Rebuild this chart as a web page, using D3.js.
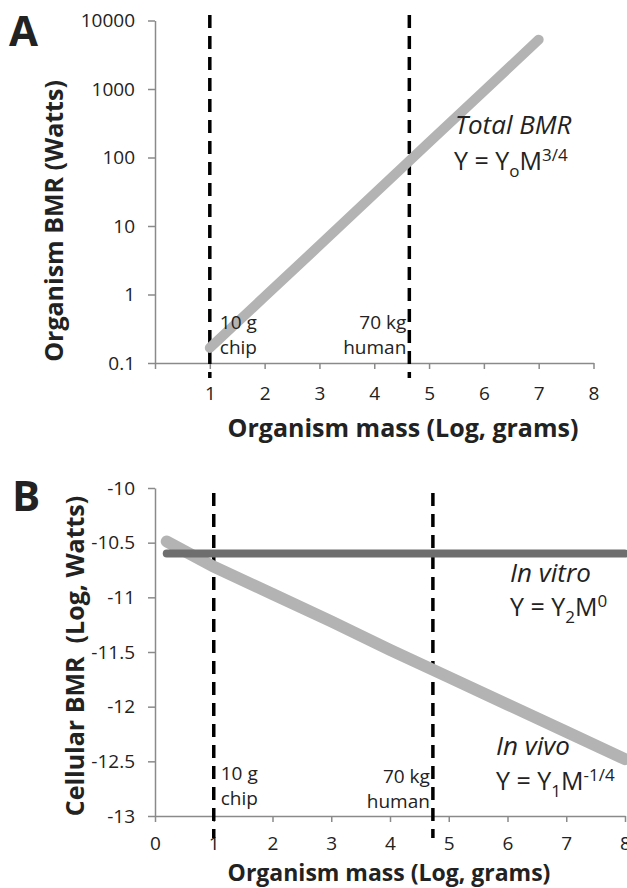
<!DOCTYPE html>
<html>
<head>
<meta charset="utf-8">
<script src="https://cdn.jsdelivr.net/npm/d3@7"></script>
<style>
  body { margin: 0; background: #fff; }
  svg text { font-family: "Open Sans", sans-serif; }
</style>
</head>
<body>
<svg id="chart" width="627" height="888"></svg>
<script>
// ---- data ----
const massTicks = [0, 1, 2, 3, 4, 5, 6, 7, 8];
const bmrTicksA = [0.1, 1, 10, 100, 1000, 10000];
const cellTicksB = [-13, -12.5, -12, -11.5, -11, -10.5, -10];

// panel A: total BMR vs organism mass
const totalMass = [1, 2, 3, 4, 5, 6, 7];
const totalBmr = [0.166, 0.93, 5.2, 29.5, 166, 930, 5250];

// panel B: cellular BMR
const vitroMass = [0.2, 8];
const vitroBmr = [-10.6, -10.6];
const vivoMass = [0.2, 1, 2, 3, 4, 5, 6, 7, 8];
const vivoBmr = [-10.49, -10.72, -10.97, -11.22, -11.48, -11.73, -11.98, -12.23, -12.48];

// reference organisms (log grams)
const markerMassA = [1, 4.64];
const markerMassB = [1, 4.73];

const svg = d3.select('#chart');
const LIGHT = '#b3b3b3', DARK = '#6e6e6e', AXIS = '#8a8a8a', TXT = '#222';

function drawAxes(g, x, y, yTicks, showZero, xPad) {
  var xa = g.append('g')
    .attr('transform', `translate(0,${y.range()[0]})`)
    .call(d3.axisBottom(x).tickValues(massTicks).tickSize(6).tickSizeOuter(0).tickPadding(xPad)
      .tickFormat(d => (d === 0 && !showZero) ? '' : d));
  var ya = g.append('g')
    .attr('transform', `translate(${x.range()[0]},0)`)
    .call(d3.axisLeft(y).tickValues(yTicks).tickSize(7).tickSizeOuter(0).tickPadding(13).tickFormat(d => d));
  [xa, ya].forEach(a => {
    a.selectAll('path, line').attr('stroke', AXIS).attr('stroke-width', 1.5);
    a.selectAll('text').attr('fill', TXT).style('font-size', '19px');
  });
}

function drawMarkers(g, x, masses, y0, y1) {
  g.selectAll('line.marker').data(masses).enter().append('line')
    .attr('class', 'marker')
    .attr('x1', d => x(d)).attr('x2', d => x(d))
    .attr('y1', y0).attr('y2', y1)
    .attr('stroke', '#000').attr('stroke-width', 3.5)
    .attr('stroke-dasharray', '13,8');
}

function note(g, x, y, lines, anchor) {
  var t = g.append('text').attr('fill', TXT).style('font-size', '19px').attr('text-anchor', anchor || 'start');
  lines.forEach((s, i) => {
    t.append('tspan').attr('x', x).attr('y', y + i * 25).text(s);
  });
}

function label(g, x, y, s) {
  g.append('text').attr('x', x).attr('y', y).attr('fill', TXT)
    .style('font-size', '26px').style('font-style', 'italic').text(s);
}

function formula(g, x, y, sub, sup) {
  var t = g.append('text').attr('x', x).attr('y', y).attr('fill', TXT).style('font-size', '25px');
  t.append('tspan').text('Y = Y');
  t.append('tspan').attr('dy', 7).style('font-size', '17px').text(sub);
  t.append('tspan').attr('dy', -7).text('M');
  t.append('tspan').attr('dy', -9).style('font-size', '17px').text(sup);
}

function title(g, x, y, s, size, rotate) {
  var t = g.append('text').attr('text-anchor', 'middle').attr('fill', TXT)
    .style('font-size', size + 'px').style('font-weight', 700).style('white-space', 'pre').text(s);
  if (rotate) t.attr('transform', `translate(${x},${y}) rotate(-90)`);
  else t.attr('x', x).attr('y', y);
}

// ---- panel A ----
var gA = svg.append('g');
var xA = d3.scaleLinear().domain([0, 8]).range([155, 593.5]);
var yA = d3.scaleLog().domain([0.1, 10000]).range([363, 20.5]);

drawAxes(gA, xA, yA, bmrTicksA, false, 18);
drawMarkers(gA, xA, markerMassA, 15, 378);

gA.append('path')
  .datum(totalMass.map((m, i) => [m, totalBmr[i]]))
  .attr('fill', 'none').attr('stroke', LIGHT).attr('stroke-width', 10).attr('stroke-linecap', 'round')
  .attr('d', d3.line().x(d => xA(d[0])).y(d => yA(d[1])));

note(gA, xA(1) + 10, 329, ['10 g', 'chip']);
note(gA, xA(markerMassA[1]) - 3, 329, ['70 kg', 'human'], 'end');

label(gA, 455, 134, 'Total BMR');
formula(gA, 454, 170, 'o', '3/4');

gA.append('text').attr('x', 9).attr('y', 46).attr('fill', TXT)
  .style('font-size', '42px').style('font-weight', 700).text('A');
title(gA, 63, 221, 'Organism BMR (Watts)', 25, true);
title(gA, 403, 437, 'Organism mass (Log, grams)', 25, false);

// ---- panel B ----
var gB = svg.append('g');
var xB = d3.scaleLinear().domain([0, 8]).range([155, 625]);
var yB = d3.scaleLinear().domain([-13, -10]).range([816, 488]);

drawAxes(gB, xB, yB, cellTicksB, true, 15);
drawMarkers(gB, xB, markerMassB, 493, 838);

var lineB = d3.line().x(d => xB(d[0])).y(d => yB(d[1]));
gB.append('path')
  .datum(vivoMass.map((m, i) => [m, vivoBmr[i]]))
  .attr('fill', 'none').attr('stroke', LIGHT).attr('stroke-width', 12).attr('stroke-linecap', 'round')
  .attr('d', lineB);
gB.append('path')
  .datum(vitroMass.map((m, i) => [m, vitroBmr[i]]))
  .attr('fill', 'none').attr('stroke', DARK).attr('stroke-width', 8).attr('stroke-linecap', 'round')
  .attr('d', lineB);

note(gB, xB(1) + 7, 780, ['10 g', 'chip']);
note(gB, xB(markerMassB[1]) - 3, 783, ['70 kg', 'human'], 'end');

label(gB, 510, 582, 'In vitro');
formula(gB, 510, 616, '2', '0');
label(gB, 496, 755, 'In vivo');
formula(gB, 496, 790, '1', '-1/4');

gB.append('text').attr('x', 12).attr('y', 511).attr('fill', TXT)
  .style('font-size', '42px').style('font-weight', 700).text('B');
title(gB, 84, 656, 'Cellular BMR  (Log, Watts)', 25, true);
title(gB, 389, 881, 'Organism mass (Log, grams)', 23, false);
</script>
</body>
</html>
